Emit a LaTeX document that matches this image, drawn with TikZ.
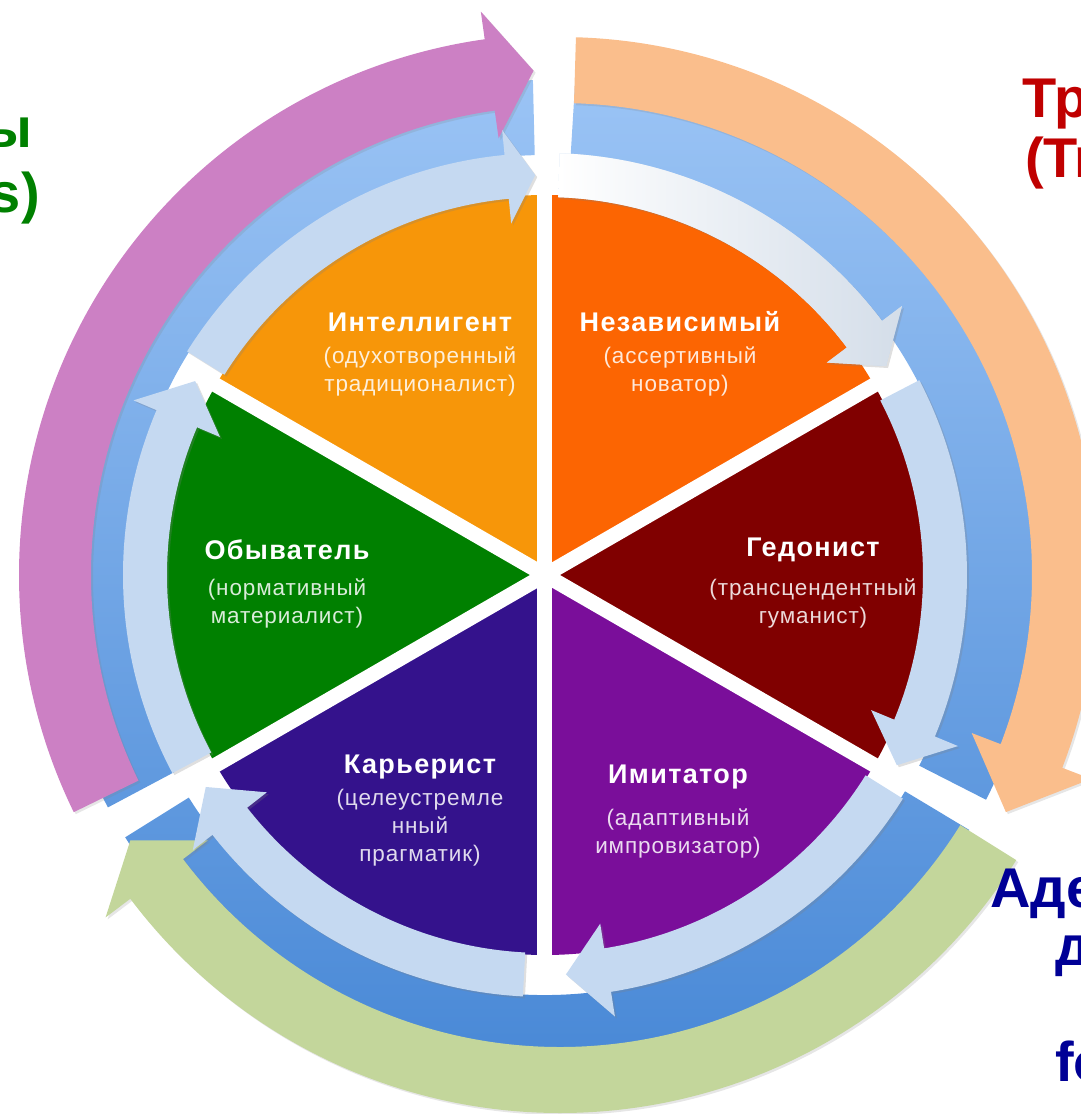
\documentclass[tikz,border=0pt]{standalone}
\usepackage{fontspec}
\setmainfont{Liberation Sans}
\usetikzlibrary{shadows}

\definecolor{intelcol}{RGB}{247,150,9}
\definecolor{indepcol}{RGB}{252,101,2}
\definecolor{hedoncol}{RGB}{128,0,0}
\definecolor{imitcol}{RGB}{122,14,154}
\definecolor{careercol}{RGB}{52,18,140}
\definecolor{philistcol}{RGB}{0,128,0}
\definecolor{ringtop}{RGB}{155,196,245}
\definecolor{ringbot}{RGB}{72,136,214}
\definecolor{innercol}{RGB}{197,217,241}
\definecolor{pinkcol}{RGB}{204,128,196}
\definecolor{peachcol}{RGB}{250,190,140}
\definecolor{limecol}{RGB}{195,214,155}
\definecolor{redtext}{RGB}{192,0,0}
\definecolor{bluetext}{RGB}{0,0,150}
\definecolor{greentext}{RGB}{0,128,0}

% curved block arrow: options, radius, half width, head half width,
% start angle, angle of head back, angle of tip
\newcommand{\ringarrow}[7]{%
  \path[#1] ({#5}:{#2+#3}) arc[start angle=#5, end angle=#6, radius=#2+#3]
    -- ({#6}:{#2+#4}) -- ({#7}:{#2}) -- ({#6}:{#2-#4})
    -- ({#6}:{#2-#3}) arc[start angle=#6, end angle=#5, radius=#2-#3] -- cycle;}

\begin{document}
\begin{tikzpicture}[x=1pt, y=1pt,
        inner arrow/.style = {fill=innercol,
            drop shadow={opacity=0.25, shadow xshift=2pt, shadow yshift=-2pt}},
        outer arrow/.style = {shift={(15,0)},
            drop shadow={opacity=0.2, shadow xshift=2pt, shadow yshift=-2pt}},
        title/.style = {text=white, inner sep=0,
            font=\bfseries\fontsize{27}{30}\selectfont\addfontfeatures{LetterSpace=5}},
        subtitle/.style = {text=white, text opacity=0.85, align=center, inner sep=0,
            font=\fontsize{22.5}{28}\selectfont\addfontfeatures{LetterSpace=4}},
        side/.style = {inner sep=0, font=\bfseries\fontsize{56}{64}\selectfont}
        ]

    \useasboundingbox (-545,-539) rectangle (536,575);
    \clip (-545,-539) rectangle (536,575);

    % Blue ring, three parts
    \begin{scope}
        \clip foreach \s/\e in {208/91.4, 86.5/-27, -31/-148} {
            (\s:420) arc[start angle=\s, end angle=\e, radius=420]
            -- (\e:495) arc[start angle=\e, end angle=\s, radius=495] -- cycle};
        \shade[top color=ringtop, bottom color=ringbot] (-500,-500) rectangle (500,500);
    \end{scope}

    % Outer arrows
    \ringarrow{outer arrow, fill=pinkcol}{505}{36}{64}{206}{98}{93}
    \ringarrow{outer arrow, fill=peachcol}{505}{33}{64}{88.3}{-21}{-28}
    \ringarrow{outer arrow, fill=limecol}{505}{33}{64}{-32}{-143}{-148.3}

    % Wedges
    \foreach \a/\c in {90/intelcol, 30/indepcol, -30/hedoncol,
                       -90/imitcol, -150/careercol, 150/philistcol}
        \fill[\c] (0,0) -- (\a:380) arc[start angle=\a, end angle=\a+60, radius=380] -- cycle;
    \foreach \a in {30,90,...,330}
        \draw[white, line width=15] (0,0) -- (\a:392);

    % Inner arrows
    \ringarrow{inner arrow, left color=white, right color=innercol!80!gray!60}{400}{22}{47}{88}{37}{31.5}
    \ringarrow{inner arrow}{400}{22}{47}{27.5}{-22.5}{-28.4}
    \ringarrow{inner arrow}{400}{22}{47}{-32}{-81}{-87}
    \ringarrow{inner arrow}{400}{22}{47}{-93}{-142}{-148}
    \ringarrow{inner arrow}{400}{22}{47}{-152}{-203}{-209}
    \ringarrow{inner arrow}{400}{22}{47}{148}{95.5}{91.4}

    % Labels
    \node[title] (intel) at (-125,253) {Интеллигент};
    \node[subtitle] (intel-sub) at (-125,204) {(одухотворенный\\традиционалист)};
    \node[title] (indep) at (135,253) {Независимый};
    \node[subtitle] (indep-sub) at (135,204) {(ассертивный\\новатор)};
    \node[title] (phil) at (-258,25) {Обыватель};
    \node[subtitle] (phil-sub) at (-258,-28) {(нормативный\\материалист)};
    \node[title] (hedon) at (268,25) {Гедонист};
    \node[subtitle] (hedon-sub) at (268,-28) {(трансцендентный\\гуманист)};
    \node[title] (career) at (-125,-192) {Карьерист};
    \node[subtitle] (career-sub) at (-125,-253) {(целеустремле\\нный\\прагматик)};
    \node[title] (imit) at (133,-202) {Имитатор};
    \node[subtitle] (imit-sub) at (133,-258) {(адаптивный\\импровизатор)};

    % Side captions
    \node[side, text=greentext, anchor=base east] (trad1) at (-512,427) {ы};
    \node[side, text=greentext, anchor=base east] (trad2) at (-505,362) {s)};
    \node[side, text=redtext, anchor=base west] (trans1) at (477,457) {Тр};
    \node[side, text=redtext, anchor=base west] (trans2) at (480,397) {(Tr};
    \node[side, text=bluetext, anchor=base west] (adapt1) at (445,-332) {Аде};
    \node[side, text=bluetext, anchor=base west] (adapt2) at (510,-390) {д};
    \node[side, text=bluetext, anchor=base west] (adapt3) at (510,-506) {fo};

\end{tikzpicture}
\end{document}
